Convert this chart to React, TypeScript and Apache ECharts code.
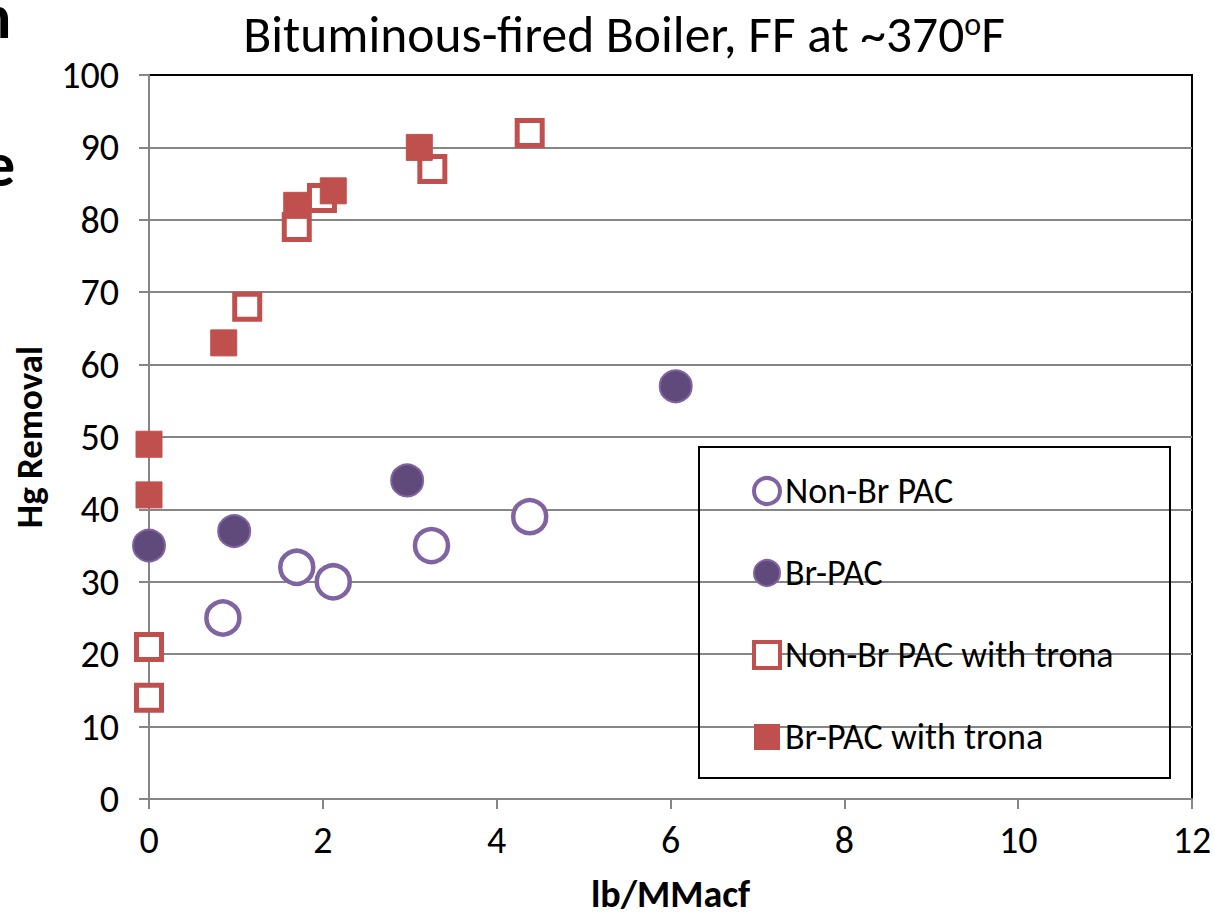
import React, { useEffect, useRef } from "react";
import * as echarts from "echarts";

const FONT = "Carlito, Lato, 'Open Sans', sans-serif";

const titleText = "Bituminous-fired Boiler, FF at ~370";
const xAxisName = "lb/MMacf";
const yAxisName = "Hg Removal";

const seriesNames = ["Non-Br PAC", "Br-PAC", "Non-Br PAC with trona", "Br-PAC with trona"];

const nonBrPac: number[][] = [
  [0.85, 25],
  [1.7, 32],
  [2.12, 30],
  [3.25, 35],
  [4.38, 39],
];
const brPac: number[][] = [
  [0, 35],
  [0.98, 37],
  [2.97, 44],
  [6.06, 57],
];
const nonBrPacTrona: number[][] = [
  [0, 21],
  [0, 14],
  [1.13, 68],
  [1.7, 79],
  [1.99, 83],
  [3.26, 87],
  [4.38, 92],
];
const brPacTrona: number[][] = [
  [0, 49],
  [0, 42],
  [0.86, 63],
  [1.7, 82],
  [2.12, 84],
  [3.11, 90],
];

const GRAY = "#868686";
const PURPLE = "#8064A2";
const DARK_PURPLE = "#604A7B";
const RED = "#C0504D";

export default function App() {
  const ref = useRef<HTMLDivElement>(null);
  useEffect(() => {
    if (!ref.current) return;
    const chart = echarts.init(ref.current, null, { renderer: "svg" });
    chart.setOption({
      animation: false,
      backgroundColor: "#fff",
      textStyle: { fontFamily: FONT },
      title: {
        text: titleText + "{sup|o}F",
        left: 619,
        textAlign: "center",
        top: 3,
        textStyle: {
          fontFamily: FONT,
          fontSize: 51.5,
          fontWeight: "normal",
          color: "#000",
          rich: {
            sup: { fontFamily: FONT, fontSize: 32, verticalAlign: "top", color: "#000", padding: [0, 0, 18, 0] },
          },
        },
      },
      grid: {
        left: 149,
        right: 23,
        top: 75,
        bottom: 116,
        show: true,
        borderColor: "#000",
        borderWidth: 2,
        backgroundColor: "transparent",
      },
      legend: {
        orient: "vertical",
        left: 747,
        top: 468,
        itemGap: 46,
        itemWidth: 26,
        itemHeight: 26,
        textStyle: { fontFamily: FONT, fontSize: 36, color: "#000", lineHeight: 32 },
        data: [
          { name: seriesNames[0], itemStyle: { color: "#fff", borderColor: PURPLE, borderWidth: 4 } },
          { name: seriesNames[1], itemStyle: { color: DARK_PURPLE, borderColor: PURPLE, borderWidth: 2 } },
          { name: seriesNames[2], itemStyle: { color: "#fff", borderColor: RED, borderWidth: 4 } },
          { name: seriesNames[3], itemStyle: { color: RED, borderColor: RED, borderWidth: 0 } },
        ],
      },
      graphic: [
        {
          type: "rect",
          shape: { x: 699, y: 447, width: 471, height: 331 },
          style: { fill: "transparent", stroke: "#000", lineWidth: 2 },
          z: 1,
        },
        {
          type: "text",
          x: -22,
          y: -14,
          style: { text: "n", font: "bold 62px " + FONT, fill: "#000" },
        },
        {
          type: "text",
          x: -16,
          y: 134,
          style: { text: "e", font: "bold 62px " + FONT, fill: "#000" },
        },
      ],
      xAxis: {
        type: "value",
        min: 0,
        max: 12,
        interval: 2,
        name: xAxisName,
        nameLocation: "middle",
        nameGap: 76,
        nameTextStyle: { fontFamily: FONT, fontSize: 38, fontWeight: "bold", color: "#000" },
        axisLine: { show: true, onZero: false, lineStyle: { color: GRAY, width: 2 } },
        axisTick: { show: true, inside: false, length: 10, lineStyle: { color: GRAY, width: 2 } },
        axisLabel: { fontFamily: FONT, fontSize: 38, color: "#000", margin: 22 },
        splitLine: { show: false },
      },
      yAxis: {
        type: "value",
        min: 0,
        max: 100,
        interval: 10,
        name: yAxisName,
        nameLocation: "middle",
        nameGap: 101,
        nameRotate: 90,
        nameTextStyle: { fontFamily: FONT, fontSize: 37, fontWeight: "bold", color: "#000" },
        axisLine: { show: true, onZero: false, lineStyle: { color: GRAY, width: 2 } },
        axisTick: { show: true, inside: false, length: 10, lineStyle: { color: GRAY, width: 2 } },
        axisLabel: { fontFamily: FONT, fontSize: 38, color: "#000", margin: 30 },
        splitLine: { show: true, showMaxLine: false, lineStyle: { color: GRAY, width: 2 } },
      },
      series: [
        {
          name: seriesNames[0],
          type: "scatter",
          data: nonBrPac,
          symbol: "circle",
          symbolSize: 33,
          itemStyle: { color: "#fff", borderColor: PURPLE, borderWidth: 4.5, opacity: 1 },
          z: 3,
        },
        {
          name: seriesNames[1],
          type: "scatter",
          data: brPac,
          symbol: "circle",
          symbolSize: 32,
          itemStyle: { color: DARK_PURPLE, borderColor: PURPLE, borderWidth: 2, opacity: 1 },
          z: 4,
        },
        {
          name: seriesNames[2],
          type: "scatter",
          data: nonBrPacTrona,
          symbol: "rect",
          symbolSize: 25,
          itemStyle: { color: "#fff", borderColor: RED, borderWidth: 5, opacity: 1 },
          z: 5,
        },
        {
          name: seriesNames[3],
          type: "scatter",
          data: brPacTrona,
          symbol: "rect",
          symbolSize: 26,
          itemStyle: { color: RED, borderColor: RED, borderWidth: 1, opacity: 1 },
          z: 6,
        },
      ],
    });
    return () => chart.dispose();
  }, []);
  return (
    <div
      ref={ref}
      style={{ position: "fixed", left: 0, top: 0, width: 1215, height: 918, background: "#fff" }}
    />
  );
}
